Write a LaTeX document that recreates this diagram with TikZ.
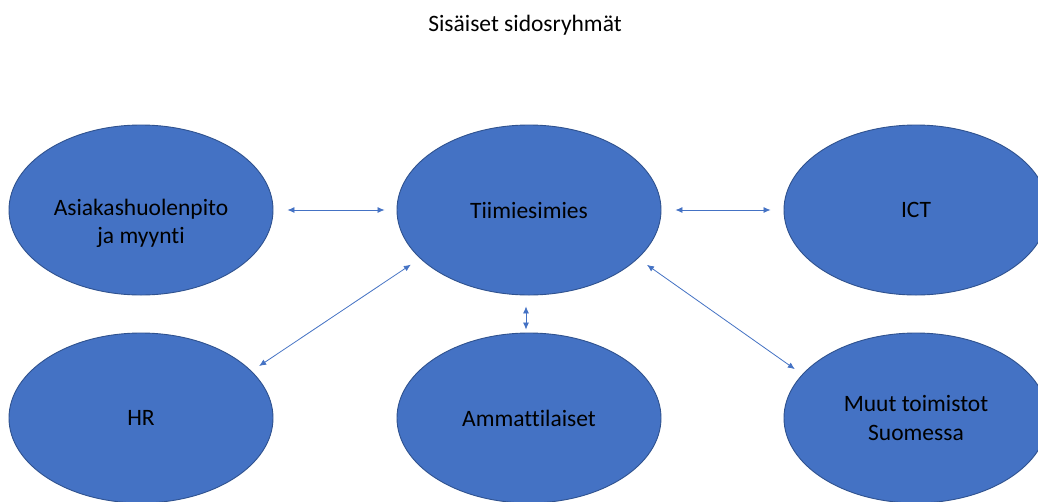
\documentclass[tikz,border=0pt]{standalone}
\usepackage{fontspec}
\setmainfont[Ligatures=NoCommon]{Carlito}
\usetikzlibrary{shapes.geometric,arrows.meta}
\definecolor{accent}{HTML}{4472C4}
\definecolor{accentdark}{HTML}{2F528F}
\tikzset{
  blob/.style={ellipse, fill=accent, draw=accentdark, line width=0.9pt,
    minimum width=264pt, minimum height=170pt, inner sep=0pt,
    align=center, text=black, font=\fontsize{23.5}{28.2}\selectfont},
  link/.style={draw=accent, line width=0.8pt,
    {Latex[length=7pt,width=6pt]}-{Latex[length=7pt,width=6pt]}}
}
\begin{document}
\begin{tikzpicture}[x=1pt,y=-1pt]
\clip (0,0) rectangle (1038,501);
\fill[white] (0,0) rectangle (1038,501);
\node[font=\fontsize{23.5}{28.2}\selectfont] (title) at (525,25) {Sisäiset sidosryhmät};
\node[blob] (asiakas) at (141,210) {\raisebox{-20pt}[0pt][0pt]{\begin{tabular}{@{}c@{}}Asiakashuolenpito\\ja myynti\end{tabular}}};
\node[blob] (tiimi) at (529,210) {Tiimiesimies};
\node[blob] (ict) at (916,210) {ICT};
\node[blob] (hr) at (141,418) {HR};
\node[blob] (amm) at (529,418) {Ammattilaiset};
\node[blob] (muut) at (916,418) {Muut toimistot\\Suomessa};
\draw[link, shorten <=14pt, shorten >=12pt] (asiakas.east) -- (tiimi.west);
\draw[link, shorten <=14pt, shorten >=13pt] (tiimi.east) -- (ict.west);
\draw[link, shorten <=11pt, shorten >=3pt] ([xshift=-3pt]tiimi.south) -- ([xshift=-3pt]amm.north);
\draw[link, shorten <=11pt, shorten >=9pt] (tiimi.204) -- (hr.23);
\draw[link, shorten <=11pt, shorten >=9pt] (tiimi.336) -- (muut.159);
\end{tikzpicture}
\end{document}
